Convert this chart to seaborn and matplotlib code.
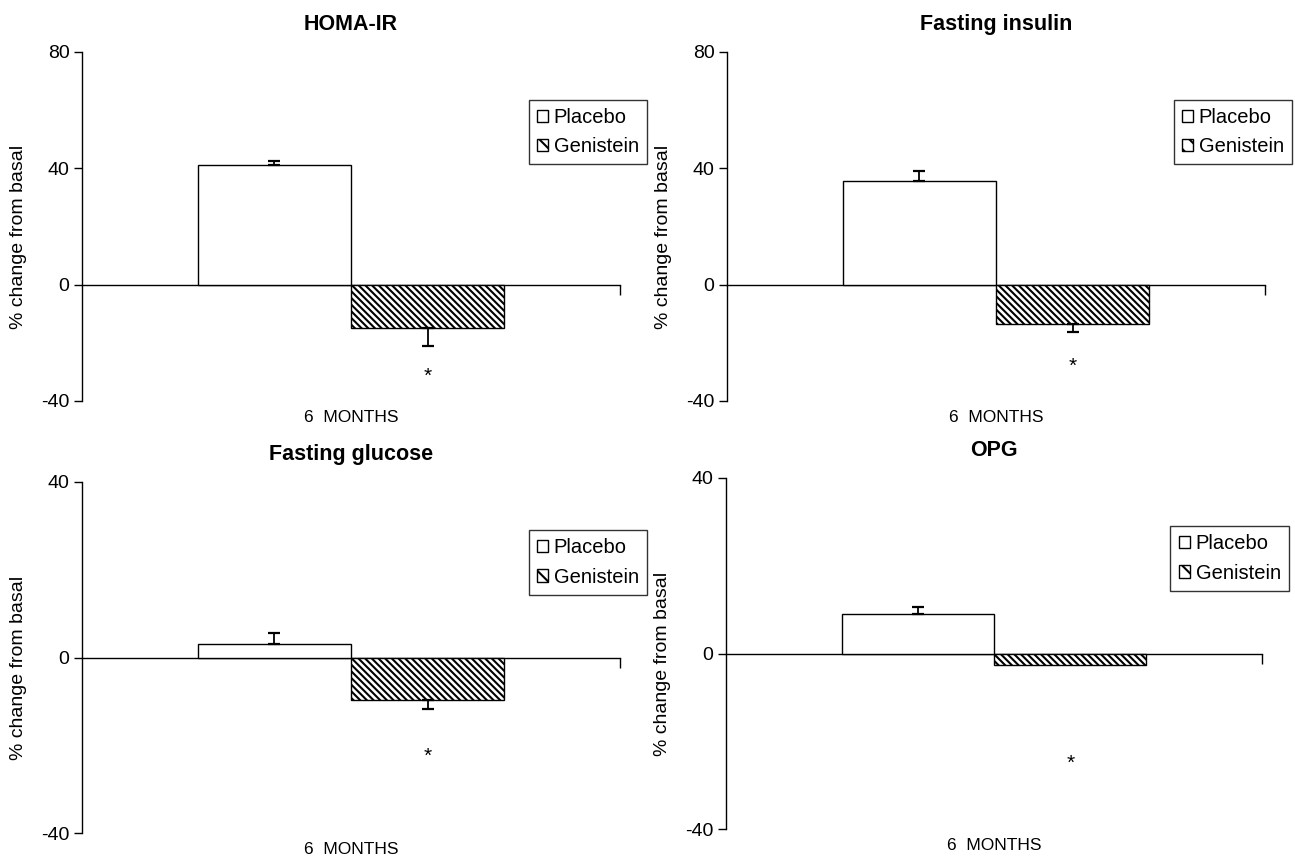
import matplotlib
matplotlib.use("Agg")
import matplotlib.pyplot as plt
import seaborn as sns
import pandas as pd
from matplotlib.patches import Patch

# ---- data ----
titles = ["HOMA-IR", "Fasting insulin", "Fasting glucose", "OPG"]
groups = ["Placebo", "Genistein"]
period = "6 MONTHS"
placebo_mean = [41.3, 35.7, 3.0, 8.9]
genistein_mean = [-14.8, -13.4, -9.6, -2.7]
placebo_err = [1.2, 3.3, 2.5, 1.8]
genistein_err = [6.2, 2.8, 2.2, 0.0]
asterisk_y = [-31.5, -28.0, -22.5, -25.0]
y_ticks = [[-40, 0, 40, 80], [-40, 0, 40, 80], [-40, 0, 40], [-40, 0, 40]]
y_label = "% change from basal"

BS = chr(92)
HATCH = BS * 5
HATCH_LEG = BS * 2

sns.set_theme(style="white")
plt.rcParams["font.family"] = ["Liberation Sans", "DejaVu Sans"]
plt.rcParams["hatch.linewidth"] = 1.5
for k in ["text.color", "axes.labelcolor", "xtick.color", "ytick.color", "axes.edgecolor"]:
    plt.rcParams[k] = "black"

fig = plt.figure(figsize=(12.95, 8.58), dpi=100)
positions = [
    (82, 52, 620, 401),
    (727, 52, 1265, 401),
    (82, 482, 620, 833),
    (726, 478, 1262, 829),
]
W, H = 1295, 858

for i in range(4):
    x0, y0, x1, y1 = positions[i]
    ax = fig.add_axes([x0 / W, 1 - y1 / H, (x1 - x0) / W, (y1 - y0) / H])
    df = pd.DataFrame({
        "period": [period, period],
        "group": groups,
        "value": [placebo_mean[i], genistein_mean[i]],
    })
    sns.barplot(data=df, x="period", y="value", hue="group", hue_order=groups,
                palette={"Placebo": "white", "Genistein": "white"},
                edgecolor="black", linewidth=1.0, errorbar=None, width=0.8,
                legend=False, ax=ax)
    cont_p, cont_g = ax.containers[0], ax.containers[1]
    for p in cont_g:
        p.set_hatch(HATCH)
    # error bars (one-sided)
    for cont, m, e in [(cont_p, placebo_mean[i], placebo_err[i]),
                       (cont_g, genistein_mean[i], genistein_err[i])]:
        if e <= 0:
            continue
        bar = cont[0]
        xc = bar.get_x() + bar.get_width() / 2
        yerr = [[0], [e]] if m >= 0 else [[e], [0]]
        ax.errorbar([xc], [m], yerr=yerr, fmt="none", ecolor="black",
                    elinewidth=1.3, capsize=4.5, capthick=1.6)
    # asterisk
    g = cont_g[0]
    ax.text(g.get_x() + g.get_width() / 2, asterisk_y[i], "*",
            ha="center", va="center", fontsize=15)

    ax.set_xlim(-0.703, 0.703)
    ax.set_ylim(y_ticks[i][0], y_ticks[i][-1])
    ax.set_yticks(y_ticks[i])
    ax.set_yticklabels([str(t) for t in y_ticks[i]], fontsize=14)
    ax.tick_params(axis="y", direction="out", length=6, width=1, color="black",
                   left=True, pad=3)
    for s in ["top", "right"]:
        ax.spines[s].set_visible(False)
    ax.spines["left"].set_linewidth(1.0)
    ax.spines["bottom"].set_position(("data", 0))
    ax.spines["bottom"].set_linewidth(1.0)
    ax.spines["bottom"].set_zorder(0.5)
    ax.set_xticks([0.703])
    ax.set_xticklabels([""])
    ax.tick_params(axis="x", direction="out", length=7, width=1, color="black",
                   bottom=True)
    ax.set_xlabel("")
    ax.text(0.5, -0.046, "6  MONTHS", transform=ax.transAxes, ha="center", va="center",
            fontsize=12.5)
    ax.set_ylabel(y_label, fontsize=14)
    ax.yaxis.set_label_coords(-0.102, 0.5 - 10 / 349)
    ax.set_title(titles[i], fontsize=15.5, fontweight="bold", pad=16)

    handles = [Patch(facecolor="white", edgecolor="black", label="Placebo"),
               Patch(facecolor="white", edgecolor="black", hatch=HATCH_LEG, label="Genistein")]
    leg = ax.legend(handles=handles, loc="upper right", bbox_to_anchor=(1.05, 0.862),
                    frameon=True, fancybox=False, edgecolor="black", fontsize=14.5,
                    handlelength=0.55, handleheight=0.55, handletextpad=0.3,
                    borderpad=0.4, labelspacing=0.5, borderaxespad=0)
    leg.get_frame().set_linewidth(1.0)

fig.savefig("out.png", dpi=100, facecolor="white")
